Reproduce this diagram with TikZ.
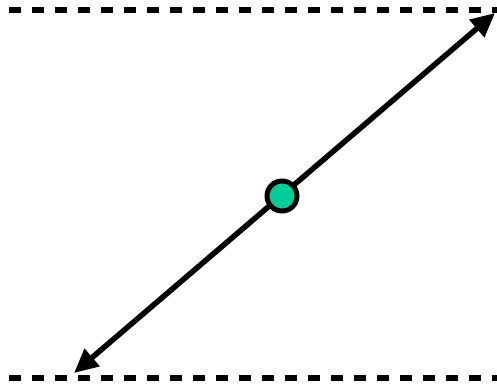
\documentclass[tikz,border=0pt]{standalone}
\usetikzlibrary{arrows.meta}
\definecolor{Mint}{HTML}{00CC99}
\tikzset{
 rail/.style={line width=6bp,dash pattern=on 12bp off 11bp},
 vec/.style={line width=5.5bp,{Triangle[length=24bp,width=22bp]}-{Triangle[length=24bp,width=22bp]}},
 dot/.style={circle,draw,line width=5bp,fill=Mint,minimum size=30bp,inner sep=0pt}
}
\begin{document}
\begin{tikzpicture}[x=1bp,y=-1bp]
\useasboundingbox (0,0) rectangle (497,385);
% dashed rails
\coordinate (tl) at (9,10);
\coordinate (tr) at (497,10);
\coordinate (bl) at (9,378);
\coordinate (br) at (497,378);
\draw[rail] (tl) -- (tr);
\draw[rail] (bl) -- (br);
% arrow through the point
\coordinate (lo) at (74,373);
\coordinate (hi) at (495,13);
\draw[vec] (lo) -- (hi);
\node[dot] (p) at (282,196) {};
\end{tikzpicture}
\end{document}
